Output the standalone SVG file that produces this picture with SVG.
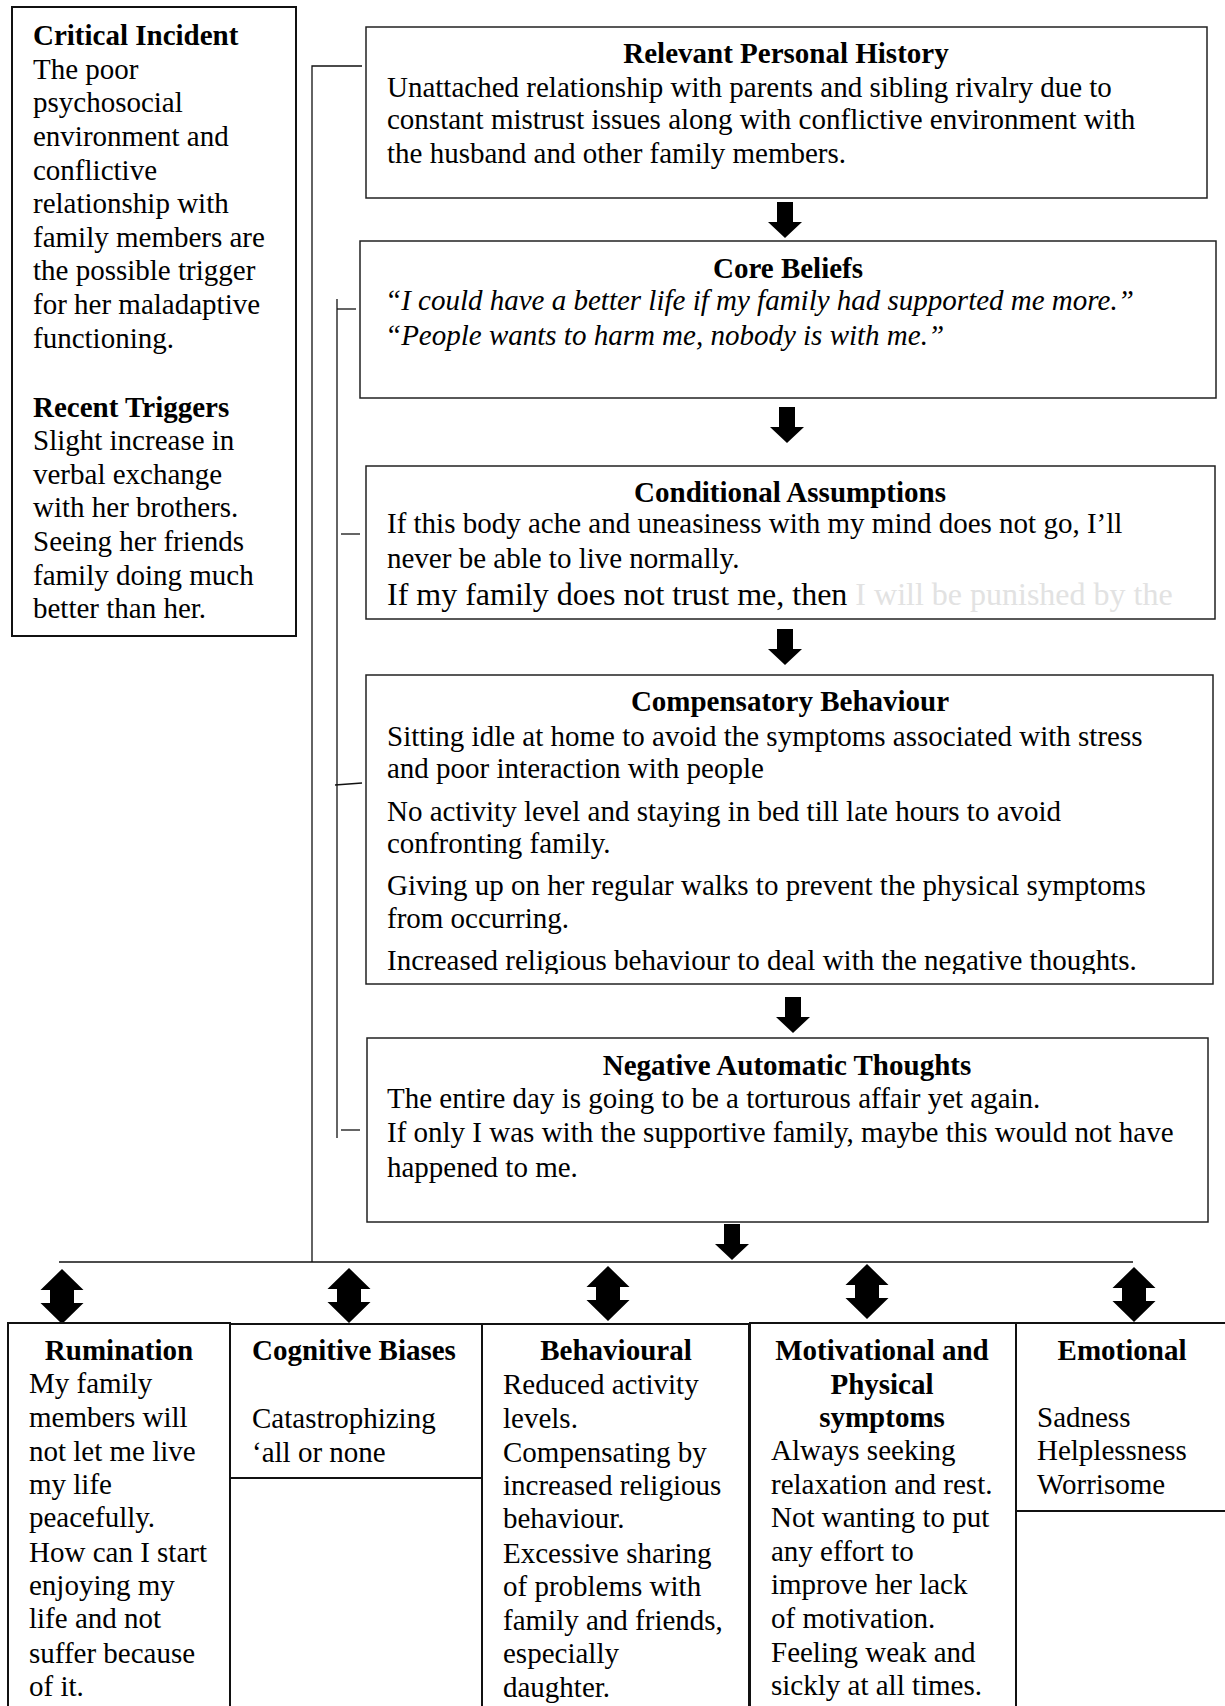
<svg xmlns="http://www.w3.org/2000/svg" width="1225" height="1706" viewBox="0 0 1225 1706">
<style>
text{font-family:"Liberation Serif","Times New Roman",serif;font-size:29px;fill:#000}
.b{font-weight:bold}
.c{text-anchor:middle}
.i{font-style:italic}
.box{fill:#fff;stroke:#222;stroke-width:1.5}
.bx2{fill:#fff;stroke:#111;stroke-width:2}
.ln{fill:none;stroke:#111;stroke-width:1.3}
.arr{fill:#000}
.fade{fill:#e2e2e2}
</style>
<defs>
<path id="dn" d="M-8,0 H8 V20 H17 L0,36 L-17,20 H-8 Z"/>
<path id="dbl" d="M0,0 L21.5,21 H12 V34 H21.5 L0,55 L-21.5,34 H-12 V21 H-21.5 Z"/>
<clipPath id="compClip"><rect x="360" y="670" width="860" height="304"/></clipPath>
</defs>
<rect width="1225" height="1706" fill="#fff"/>

<g id="connectors">
<polyline class="ln" points="362,66 312,66 312,1262"/>
<line class="ln" x1="59" y1="1262" x2="1133" y2="1262"/>
<line class="ln" x1="337" y1="299" x2="337" y2="1138"/>
<line class="ln" x1="337" y1="309" x2="356" y2="309"/>
<line class="ln" x1="341" y1="534" x2="360" y2="534"/>
<line class="ln" x1="335" y1="785" x2="362" y2="783"/>
<line class="ln" x1="341" y1="1130" x2="360" y2="1130"/>
<g class="arr">
<use href="#dn" transform="translate(785,202)"/>
<use href="#dn" transform="translate(787,407)"/>
<use href="#dn" transform="translate(785,629)"/>
<use href="#dn" transform="translate(793,997)"/>
<use href="#dn" transform="translate(732,1224)"/>
<use href="#dbl" transform="translate(62,1269)"/>
<use href="#dbl" transform="translate(349,1268)"/>
<use href="#dbl" transform="translate(608,1266)"/>
<use href="#dbl" transform="translate(867,1264)"/>
<use href="#dbl" transform="translate(1134,1267)"/>
</g>
</g>

<g id="critical-incident">
<rect class="bx2" x="12" y="7" width="284" height="629"/>
<text class="b" x="33" y="45">Critical Incident</text>
<text x="33" y="79">The poor</text>
<text x="33" y="112">psychosocial</text>
<text x="33" y="146">environment and</text>
<text x="33" y="180">conflictive</text>
<text x="33" y="213">relationship with</text>
<text x="33" y="247">family members are</text>
<text x="33" y="280">the possible trigger</text>
<text x="33" y="314">for her maladaptive</text>
<text x="33" y="348">functioning.</text>
<text class="b" x="33" y="417">Recent Triggers</text>
<text x="33" y="450">Slight increase in</text>
<text x="33" y="484">verbal exchange</text>
<text x="33" y="517">with her brothers.</text>
<text x="33" y="551">Seeing her friends</text>
<text x="33" y="585">family doing much</text>
<text x="33" y="618">better than her.</text>
</g>

<g id="personal-history">
<rect class="box" x="366" y="27" width="841" height="171"/>
<text class="b c" x="786" y="63">Relevant Personal History</text>
<text x="387" y="97">Unattached relationship with parents and sibling rivalry due to</text>
<text x="387" y="129">constant mistrust issues along with conflictive environment with</text>
<text x="387" y="163">the husband and other family members.</text>
</g>

<g id="core-beliefs">
<rect class="box" x="360" y="241" width="856" height="157"/>
<text class="b c" x="788" y="278">Core Beliefs</text>
<text class="i" x="385" y="310">“I could have a better life if my family had supported me more.”</text>
<text class="i" x="385" y="345">“People wants to harm me, nobody is with me.”</text>
</g>

<g id="conditional-assumptions">
<rect class="box" x="366" y="466" width="849" height="153"/>
<text class="b c" x="790" y="502">Conditional Assumptions</text>
<text x="387" y="533">If this body ache and uneasiness with my mind does not go, I’ll</text>
<text x="387" y="568">never be able to live normally.</text>
<text x="387" y="605" style="font-size:32px">If my family does not trust me, then <tspan class="fade">I will be punished by the</tspan></text>
</g>

<g id="compensatory-behaviour">
<rect class="box" x="366" y="675" width="847" height="309"/>
<text class="b c" x="790" y="711">Compensatory Behaviour</text>
<g clip-path="url(#compClip)">
<text x="387" y="746">Sitting idle at home to avoid the symptoms associated with stress</text>
<text x="387" y="778">and poor interaction with people</text>
<text x="387" y="821">No activity level and staying in bed till late hours to avoid</text>
<text x="387" y="853">confronting family.</text>
<text x="387" y="895">Giving up on her regular walks to prevent the physical symptoms</text>
<text x="387" y="928">from occurring.</text>
<text x="387" y="970">Increased religious behaviour to deal with the negative thoughts.</text>
</g>
</g>

<g id="negative-automatic-thoughts">
<rect class="box" x="367" y="1038" width="841" height="184"/>
<text class="b c" x="787" y="1075">Negative Automatic Thoughts</text>
<text x="387" y="1108">The entire day is going to be a torturous affair yet again.</text>
<text x="387" y="1142">If only I was with the supportive family, maybe this would not have</text>
<text x="387" y="1177">happened to me.</text>
</g>

<g id="rumination">
<rect class="bx2" x="8" y="1323" width="222" height="420"/>
<text class="b c" x="119" y="1360">Rumination</text>
<text x="29" y="1393">My family</text>
<text x="29" y="1427">members will</text>
<text x="29" y="1461">not let me live</text>
<text x="29" y="1494">my life</text>
<text x="29" y="1527">peacefully.</text>
<text x="29" y="1562">How can I start</text>
<text x="29" y="1595">enjoying my</text>
<text x="29" y="1628">life and not</text>
<text x="29" y="1663">suffer because</text>
<text x="29" y="1696">of it.</text>
</g>

<g id="cognitive-biases">
<rect class="bx2" x="230" y="1324" width="252" height="154"/>
<text class="b c" x="354" y="1360">Cognitive Biases</text>
<text x="252" y="1428">Catastrophizing</text>
<text x="252" y="1462">‘all or none</text>
</g>

<g id="behavioural">
<rect class="bx2" x="482" y="1324" width="267" height="420"/>
<text class="b c" x="616" y="1360">Behavioural</text>
<text x="503" y="1394">Reduced activity</text>
<text x="503" y="1428">levels.</text>
<text x="503" y="1462">Compensating by</text>
<text x="503" y="1495">increased religious</text>
<text x="503" y="1528">behaviour.</text>
<text x="503" y="1563">Excessive sharing</text>
<text x="503" y="1596">of problems with</text>
<text x="503" y="1630">family and friends,</text>
<text x="503" y="1663">especially</text>
<text x="503" y="1697">daughter.</text>
</g>

<g id="motivational-physical">
<rect class="bx2" x="750" y="1323" width="266" height="420"/>
<text class="b c" x="882" y="1360">Motivational and</text>
<text class="b c" x="882" y="1394">Physical</text>
<text class="b c" x="882" y="1427">symptoms</text>
<text x="771" y="1460">Always seeking</text>
<text x="771" y="1494">relaxation and rest.</text>
<text x="771" y="1527">Not wanting to put</text>
<text x="771" y="1561">any effort to</text>
<text x="771" y="1594">improve her lack</text>
<text x="771" y="1628">of motivation.</text>
<text x="771" y="1662">Feeling weak and</text>
<text x="771" y="1695">sickly at all times.</text>
</g>

<g id="emotional">
<rect class="bx2" x="1016" y="1323" width="212" height="188"/>
<text class="b c" x="1122" y="1360">Emotional</text>
<text x="1037" y="1427">Sadness</text>
<text x="1037" y="1460">Helplessness</text>
<text x="1037" y="1494">Worrisome</text>
</g>
</svg>
